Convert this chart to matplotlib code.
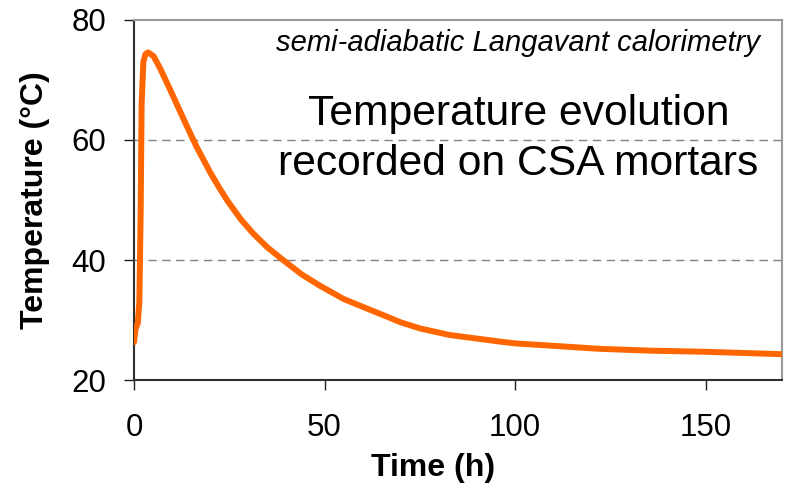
import matplotlib
matplotlib.use('Agg')
import matplotlib.pyplot as plt

plt.rcParams['font.family'] = ['Liberation Sans', 'DejaVu Sans']

# semi-adiabatic Langavant record
time_h = [0, 0.4, 1.0, 1.4, 1.75, 2.0, 2.45, 3.0, 3.7, 5.1, 6.8, 9.4, 11.2,
          13.8, 16.4, 19.9, 22.5, 24.7, 28, 31.3, 35, 39.1, 44, 48.8, 55, 60,
          66.2, 70, 75, 82.8, 90, 96, 100, 110, 122, 135, 150, 160, 170]
temp_c = [26.3, 28.5, 29.5, 33, 48, 66, 73, 74.3, 74.6, 74.0, 72.0, 68.5,
          66.0, 62.4, 58.9, 54.7, 51.9, 49.7, 46.8, 44.4, 42.1, 40, 37.6, 35.7,
          33.5, 32.2, 30.6, 29.6, 28.6, 27.5, 26.9, 26.4, 26.1, 25.7, 25.2,
          24.9, 24.7, 24.5, 24.3]

xticks = [0, 50, 100, 150]
yticks = [20, 40, 60, 80]

fig = plt.figure(figsize=(7.88, 4.90), dpi=100)
ax = fig.add_axes([134/788, 1-380/490, (782-134)/788, (380-20)/490])

ax.plot(time_h, temp_c, color='#FF6600', lw=4.3, solid_capstyle='round',
        solid_joinstyle='round', zorder=3)

ax.set_xlim(0, 170)
ax.set_ylim(20, 80)
ax.set_xticks(xticks)
ax.set_yticks(yticks)
ax.tick_params(axis='both', direction='out', length=7, width=1,
               colors='#202020', labelsize=22.5, labelcolor='black')
ax.tick_params(axis='y', pad=13)
ax.tick_params(axis='x', pad=17)

for y in [40, 60]:
    ax.axhline(y, color='#808080', lw=1, ls=(0, (6, 4)), zorder=1)

ax.spines['left'].set_color('#303030')
ax.spines['bottom'].set_color('#303030')
ax.spines['top'].set_color('#9a9a9a')
ax.spines['right'].set_color('#9a9a9a')
for s in ax.spines.values():
    s.set_linewidth(1.5)

ax.set_xlabel('Time (h)', fontsize=23, fontweight='bold')
ax.set_ylabel('Temperature (°C)', fontsize=23, fontweight='bold')
ax.xaxis.set_label_coords((433.5-134)/648, -(453-380)/360)
ax.yaxis.set_label_coords(-(134-50)/648, 0.5)

ax.text(518/788, 1-51/490, 'semi-adiabatic Langavant calorimetry',
        transform=fig.transFigure, ha='center', va='baseline',
        fontsize=21, style='italic')
ax.text(518.5/788, 1-125/490, 'Temperature evolution',
        transform=fig.transFigure, ha='center', va='baseline', fontsize=30.7)
ax.text(518.5/788, 1-175/490, 'recorded on CSA mortars',
        transform=fig.transFigure, ha='center', va='baseline', fontsize=30.7)

fig.savefig('out.png', dpi=100)
plt.close(fig)
